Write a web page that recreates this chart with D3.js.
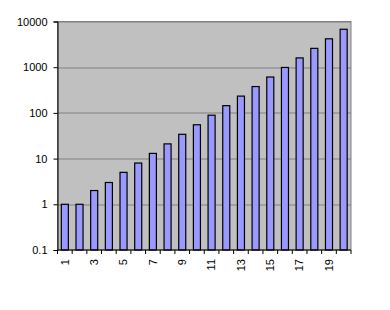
<!DOCTYPE html>
<html>
<head>
<meta charset="utf-8">
<script src="https://cdn.jsdelivr.net/npm/d3@7"></script>
<style>
  body { margin: 0; background: #fff; }
  text { font-family: "Liberation Sans", Arial, sans-serif; font-size: 11px; fill: #000; }
</style>
</head>
<body>
<div id="chart"></div>
<script>
var categories = [1, 2, 3, 4, 5, 6, 7, 8, 9, 10, 11, 12, 13, 14, 15, 16, 17, 18, 19, 20];
var values = [1, 1, 2, 3, 5, 8, 13, 21, 34, 55, 89, 144, 233, 377, 610, 987, 1597, 2584, 4181, 6765];
var yTicks = [0.1, 1, 10, 100, 1000, 10000];

var margin = { top: 21.5, right: 39, bottom: 60, left: 57.5 };
var width = 390 - margin.left - margin.right;
var height = 310 - margin.top - margin.bottom;

var svg = d3.select('#chart').append('svg')
    .attr('width', 390)
    .attr('height', 310);

var g = svg.append('g')
    .attr('transform', 'translate(' + margin.left + ',' + margin.top + ')');

var x = d3.scaleBand()
    .domain(categories)
    .range([0, width])
    .paddingInner(0.52)
    .paddingOuter(0.26);

var y = d3.scaleLog()
    .domain([0.1, 10000])
    .range([height, 0]);

// plot area
g.append('rect')
    .attr('width', width)
    .attr('height', height)
    .attr('fill', '#c0c0c0')
    .attr('stroke', '#808080');

// gridlines
g.selectAll('.grid')
    .data(yTicks.slice(1))
    .enter()
    .append('line')
    .attr('x1', 0)
    .attr('x2', width)
    .attr('y1', function (d) { return Math.round(y(d)) + 0.5; })
    .attr('y2', function (d) { return Math.round(y(d)) + 0.5; })
    .attr('stroke', '#808080');

// bars
g.selectAll('.bar')
    .data(values)
    .enter()
    .append('rect')
    .attr('class', 'bar')
    .attr('x', function (d, i) { return x(categories[i]); })
    .attr('y', function (d) { return y(d); })
    .attr('width', x.bandwidth())
    .attr('height', function (d) { return height - y(d); })
    .attr('fill', '#9999ff')
    .attr('stroke', '#000')
    .attr('stroke-width', 1.2);

// y axis
var yAxis = g.append('g')
    .call(d3.axisLeft(y).tickValues(yTicks).tickFormat(function (d) { return String(d); })
        .tickSize(4).tickPadding(6));
yAxis.select('.domain').attr('stroke', '#000');
yAxis.selectAll('text').style('font-size', '11px');

// x axis: ticks at category boundaries
var step = x.step();
var bounds = d3.range(categories.length + 1).map(function (i) { return i * width / categories.length; });
var xg = g.append('g').attr('transform', 'translate(0,' + height + ')');
xg.append('line')
    .attr('x1', 0).attr('x2', width)
    .attr('stroke', '#000');
xg.selectAll('.xtick')
    .data(bounds)
    .enter()
    .append('line')
    .attr('x1', function (d) { return d; })
    .attr('x2', function (d) { return d; })
    .attr('y1', 0).attr('y2', 4)
    .attr('stroke', '#000');
xg.selectAll('.xlabel')
    .data(categories.filter(function (d) { return d % 2 === 1; }))
    .enter()
    .append('text')
    .attr('text-anchor', 'end')
    .attr('dy', '0.35em')
    .attr('transform', function (d) {
        return 'translate(' + (x(d) + x.bandwidth() / 2) + ',9)rotate(-90)';
    })
    .text(function (d) { return d; });
</script>
</body>
</html>
